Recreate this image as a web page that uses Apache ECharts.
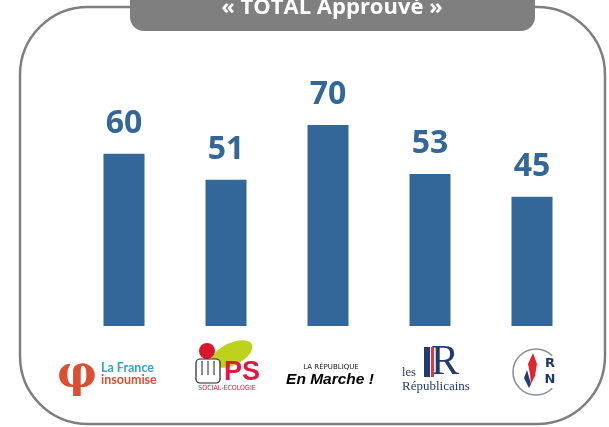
<!DOCTYPE html>
<html>
<head>
<meta charset="utf-8">
<script src="https://cdn.jsdelivr.net/npm/echarts@6/dist/echarts.min.js"></script>
<style>
  html, body { margin: 0; padding: 0; background: #fff; }
  #chart { width: 609px; height: 427px; }
</style>
</head>
<body>
<div id="chart"></div>
<script>
const parties = ['La France insoumise', 'PS', 'La République En Marche', 'Les Républicains', 'RN'];
const approuve = [60, 51, 70, 53, 45];

const BLUE = '#33679a';
const GREY = '#7f7f7f';

const chart = echarts.init(document.getElementById('chart'));

// logos drawn under each bar, roughly
function logo(i, cx, cy) {
  if (i === 0) {
    return [
      { type: 'text', x: cx - 47, y: cy + 4, style: { text: 'φ', font: 'bold 44px "DejaVu Serif"', fill: '#dc4e32', align: 'center', verticalAlign: 'middle' } },
      { type: 'text', x: cx - 23, y: cy - 4, style: { text: 'La France', font: 'bold 12.5px Lato', fill: '#33a3c8', align: 'left', verticalAlign: 'middle' } },
      { type: 'text', x: cx - 23, y: cy + 8, style: { text: 'insoumise', font: 'bold 12.5px Lato', fill: '#dc4e32', align: 'left', verticalAlign: 'middle' } }
    ];
  }
  if (i === 1) {
    return [
      { type: 'ellipse', rotation: 0.45, x: cx + 6, y: cy - 18, shape: { cx: 0, cy: 0, rx: 22, ry: 11 }, style: { fill: '#bcd21c' } },
      { type: 'circle', shape: { cx: cx - 19, cy: cy - 21, r: 8 }, style: { fill: '#d9162b' } },
      { type: 'rect', shape: { x: cx - 30, y: cy - 13, width: 24, height: 24, r: 4 }, style: { fill: '#fff', stroke: '#222', lineWidth: 1.2 } },
      { type: 'line', shape: { x1: cx - 24, y1: cy - 11, x2: cx - 24, y2: cy + 3 }, style: { stroke: '#222', lineWidth: 1 } },
      { type: 'line', shape: { x1: cx - 18, y1: cy - 11, x2: cx - 18, y2: cy + 3 }, style: { stroke: '#222', lineWidth: 1 } },
      { type: 'line', shape: { x1: cx - 12, y1: cy - 11, x2: cx - 12, y2: cy + 3 }, style: { stroke: '#222', lineWidth: 1 } },
      { type: 'text', x: cx - 2, y: cy + 1, style: { text: 'PS', font: 'bold 27px "Liberation Sans"', fill: '#e2163f', align: 'left', verticalAlign: 'middle' } },
      { type: 'text', x: cx + 1, y: cy + 16, style: { text: 'SOCIAL-ÉCOLOGIE', font: '7px "DejaVu Sans Condensed"', fill: '#e2163f', align: 'center', verticalAlign: 'middle' } }
    ];
  }
  if (i === 2) {
    return [
      { type: 'text', x: cx + 3, y: cy - 5, style: { text: 'LA RÉPUBLIQUE', font: '7px "DejaVu Sans"', fill: '#111', align: 'center', verticalAlign: 'middle' } },
      { type: 'text', x: cx + 2, y: cy + 8, style: { text: 'En Marche !', font: 'italic bold 15.5px "Liberation Sans"', fill: '#000', align: 'center', verticalAlign: 'middle' } }
    ];
  }
  if (i === 3) {
    return [
      { type: 'text', x: cx - 28, y: cy + 1, style: { text: 'les', font: '12.5px "Liberation Serif"', fill: '#233a6e', align: 'left', verticalAlign: 'middle' } },
      { type: 'rect', shape: { x: cx - 6, y: cy - 25, width: 6, height: 30 }, style: { fill: '#233a6e' } },
      { type: 'text', x: cx + 1, y: cy - 9, style: { text: 'R', font: '42px "Liberation Serif"', fill: '#233a6e', align: 'left', verticalAlign: 'middle' } },
      { type: 'rect', shape: { x: cx + 1, y: cy - 25, width: 3, height: 30 }, style: { fill: '#e8333a' } },
      { type: 'text', x: cx - 28, y: cy + 15, style: { text: 'Républicains', font: '13px "Liberation Serif"', fill: '#233a6e', align: 'left', verticalAlign: 'middle' } }
    ];
  }
  return [
    { type: 'arc', shape: { cx: cx + 4, cy: cy, r: 23, startAngle: Math.PI * 0.25, endAngle: Math.PI * 1.75 }, style: { stroke: '#8c9196', lineWidth: 1.6, fill: null } },
    { type: 'polygon', shape: { points: [[cx + 1, cy - 19], [cx + 5, cy - 8], [cx + 3, cy + 4], [cx - 1, cy + 12], [cx - 2, cy + 2], [cx - 4, cy - 8]] }, style: { fill: '#e2262f' } },
    { type: 'polygon', shape: { points: [[cx - 5, cy - 2], [cx - 1, cy + 12], [cx - 3, cy + 16], [cx - 8, cy + 6]] }, style: { fill: '#1e3f78' } },
    { type: 'text', x: cx + 18, y: cy - 8, style: { text: 'R', font: 'bold 13px "DejaVu Sans"', fill: '#1d3a6b', align: 'center', verticalAlign: 'middle' } },
    { type: 'text', x: cx + 18, y: cy + 8, style: { text: 'N', font: 'bold 13px "DejaVu Sans"', fill: '#1d3a6b', align: 'center', verticalAlign: 'middle' } }
  ];
}

chart.setOption({
  animation: false,
  grid: { left: 73, right: 26, top: 39, bottom: 101 },
  xAxis: {
    type: 'category',
    data: parties,
    axisLine: { show: false },
    axisTick: { show: false },
    axisLabel: { show: false }
  },
  yAxis: {
    type: 'value',
    min: 0,
    max: 100,
    show: false,
    splitLine: { show: false }
  },
  series: [{
    type: 'bar',
    data: approuve,
    barWidth: 41,
    itemStyle: { color: BLUE },
    label: {
      show: true,
      position: 'top',
      distance: 14,
      color: BLUE,
      fontFamily: 'Open Sans',
      fontWeight: 'bold',
      fontSize: 32
    }
  }]
});

const cy = 372;
let logos = [];
parties.forEach((p, i) => {
  const cx = chart.convertToPixel({ xAxisIndex: 0 }, p);
  logos = logos.concat(logo(i, cx, cy));
});

chart.setOption({
  graphic: [
    { type: 'rect', z: -1, shape: { x: 20, y: 7, width: 585, height: 417, r: 68 }, style: { fill: null, stroke: GREY, lineWidth: 2.5 } },
    { type: 'rect', shape: { x: 130, y: -14, width: 405, height: 45, r: [0, 0, 14, 14] }, style: { fill: GREY } },
    { type: 'text', x: 332, y: 19, style: { text: '« TOTAL Approuvé »', font: 'bold 22px "Open Sans"', fill: '#fff', align: 'center', verticalAlign: 'bottom' } }
  ].concat(logos)
});
</script>
</body>
</html>
